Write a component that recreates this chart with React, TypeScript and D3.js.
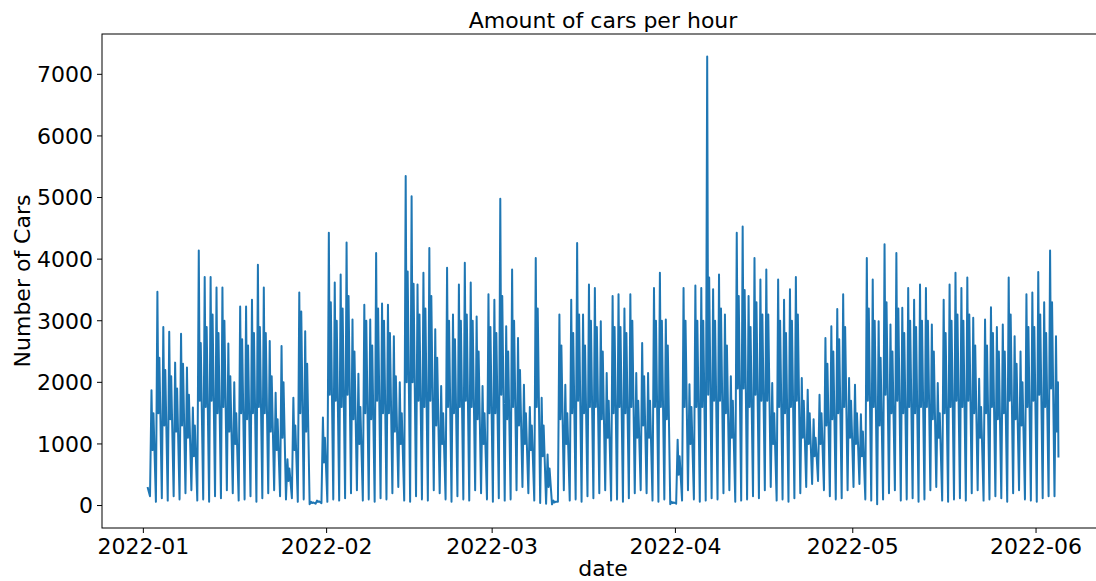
import React from "react";
import * as d3 from "d3";

// Daily readings (day 0 = 2022-01-01)
const dailyPeak = [
  370, 1870, 3470, 2900, 2820, 2320, 2790,
  2240, 1590, 4140, 3710, 3710, 3540, 3540,
  2630, 2000, 3230, 3230, 3340, 3910, 3540,
  2670, 1830, 2590, 750, 1750, 3460, 2830,
  60, 80, 1430, 4430, 3620, 3750, 4270,
  3020, 2140, 3260, 3020, 4100, 3280, 3260,
  2750, 2000, 5350, 5020, 3590, 3780, 4180,
  2860, 1940, 3860, 3100, 3590, 3940, 3620,
  3070, 1940, 3430, 3340, 4980, 2910, 3830,
  2720, 1960, 1600, 4020, 1750, 830, 80,
  3100, 1960, 3340, 4260, 3100, 3590, 3530,
  2990, 2150, 3400, 3430, 3200, 3430, 2150,
  2640, 2150, 3530, 3780, 3020, 60, 1070,
  3530, 1970, 3570, 3530, 7290, 3510, 3750,
  3100, 2100, 4430, 4530, 3400, 4020, 3670,
  3830, 1990, 3670, 3340, 3510, 3710, 2070,
  1880, 1400, 1800, 2720, 2910, 3190, 3430,
  2070, 1960, 1480, 4020, 3670, 2990, 4240,
  2940, 4100, 3210, 3530, 3340, 3590, 3530,
  2940, 1990, 3340, 3590, 3780, 3530, 3700,
  3050, 2060, 3020, 3220, 2900, 2940, 3700,
  2750, 2500, 3430, 3460, 3790, 3300, 4140,
  2750,
];

const dailySecond = [
  300, 1500, 2400, 2200, 2100, 1900, 2300,
  1800, 1300, 2640, 2900, 3100, 2800, 3000,
  2100, 1500, 2700, 2600, 2800, 2900, 2800,
  2100, 1400, 2000, 600, 1300, 3150, 2300,
  50, 70, 1100, 3300, 3000, 3200, 3400,
  2500, 1600, 3000, 2600, 3200, 3000, 2800,
  2100, 1500, 3800, 3600, 3100, 3200, 3400,
  2400, 1500, 3000, 2700, 3000, 3100, 3000,
  2500, 1500, 2900, 2800, 3400, 2500, 3000,
  2200, 1500, 1300, 3200, 1300, 600, 60,
  2600, 1500, 2800, 3100, 2600, 3000, 2900,
  2500, 1700, 2900, 2900, 2800, 3000, 1700,
  2100, 1700, 3000, 3000, 2600, 50, 800,
  3000, 1600, 3000, 3000, 3700, 3000, 3200,
  2600, 1700, 3400, 3500, 2900, 3300, 3100,
  3100, 1500, 3000, 2800, 3000, 3100, 1700,
  1500, 1100, 1500, 2300, 2500, 2700, 2900,
  1700, 1500, 1200, 3200, 3000, 2400, 3300,
  2500, 3200, 2800, 3000, 2900, 3000, 3000,
  2500, 1500, 2800, 3000, 3100, 3000, 3100,
  2600, 1600, 2600, 2800, 2500, 2500, 3100,
  2300, 2000, 2900, 2900, 3100, 2800, 3300,
  2000,
];

const dailyDip = [
  200, 900, 1500, 1300, 1400, 1200, 1300,
  1100, 800, 1700, 1600, 1700, 1500, 1600,
  1200, 1000, 1500, 1400, 1500, 1600, 1500,
  1200, 900, 1100, 400, 900, 1500, 1200,
  40, 60, 700, 1800, 1700, 1600, 1800,
  1400, 1000, 1500, 1400, 1700, 1500, 1500,
  1200, 1000, 2000, 2000, 1700, 1600, 1700,
  1300, 1000, 1600, 1500, 1600, 1700, 1600,
  1400, 1000, 1500, 1500, 1800, 1400, 1600,
  1300, 1000, 900, 1600, 800, 300, 50,
  1400, 1000, 1500, 1700, 1500, 1600, 1600,
  1400, 1100, 1500, 1600, 1500, 1600, 1100,
  1300, 1100, 1600, 1600, 1400, 40, 500,
  1600, 1000, 1600, 1600, 1800, 1700, 1700,
  1500, 1100, 1900, 1900, 1600, 1800, 1700,
  1700, 1000, 1600, 1500, 1600, 1700, 1100,
  1000, 800, 1000, 1300, 1400, 1500, 1600,
  1100, 1000, 800, 1700, 1600, 1300, 1800,
  1500, 1700, 1500, 1600, 1500, 1600, 1600,
  1400, 1100, 1500, 1600, 1700, 1600, 1700,
  1500, 1100, 1500, 1600, 1400, 1500, 1700,
  1400, 1300, 1600, 1700, 1800, 1600, 1900,
  1200,
];

const dailyLow = [
  250, 150, 60, 120, 80, 150, 100,
  200, 250, 80, 100, 60, 150, 120,
  250, 200, 80, 100, 150, 60, 120,
  200, 250, 150, 100, 120, 60, 100,
  20, 30, 40, 60, 100, 80, 120,
  200, 250, 80, 100, 60, 120, 100,
  200, 300, 80, 60, 150, 100, 80,
  250, 200, 100, 60, 150, 100, 80,
  250, 200, 100, 60, 120, 80, 100,
  250, 300, 200, 80, 40, 30, 20,
  60, 250, 80, 100, 60, 150, 120,
  200, 250, 80, 100, 60, 120, 200,
  250, 200, 80, 60, 100, 20, 30,
  80, 250, 100, 60, 80, 120, 100,
  200, 250, 60, 80, 100, 150, 120,
  250, 300, 80, 100, 60, 120, 200,
  300, 350, 400, 250, 150, 100, 120,
  250, 300, 350, 100, 80, 20, 100,
  200, 250, 80, 100, 120, 60, 100,
  250, 300, 80, 60, 100, 120, 80,
  200, 250, 80, 100, 150, 120, 60,
  200, 250, 100, 80, 60, 120, 150,
  150,
];

const lastValue = 780;
const firstDate = new Date(2022, 0, 1);
const dataStart = new Date(2022, 0, 1, 16);
const dataEnd = new Date(2022, 5, 4, 19);

const xTickDates = [0, 1, 2, 3, 4, 5].map((m) => new Date(2022, m, 1));
const xTickLabels = ["2022-01", "2022-02", "2022-03", "2022-04", "2022-05", "2022-06"];
const yTicks = [0, 1000, 2000, 3000, 4000, 5000, 6000, 7000];

const HOUR = 3600 * 1000;
const DAY = 24 * HOUR;

type Pt = { t: Date; v: number };

function buildSeries(): Pt[] {
  const pts: Pt[] = [];
  dailyPeak.forEach((_, d) => {
    const base = firstDate.getTime() + d * DAY;
    pts.push({ t: new Date(base + 3 * HOUR), v: dailyLow[d] });
    pts.push({ t: new Date(base + 9 * HOUR), v: dailyPeak[d] });
    pts.push({ t: new Date(base + 13 * HOUR), v: dailyDip[d] });
    pts.push({ t: new Date(base + 17 * HOUR), v: dailySecond[d] });
  });
  const out = pts.filter((p) => p.t >= dataStart && p.t < dataEnd);
  out.push({ t: dataEnd, v: lastValue });
  return out;
}

export default function App() {
  const W = 1096;
  const H = 581;
  const left = 102;
  const right = 1104;
  const top = 34;
  const bottom = 528;

  const series = buildSeries();
  const tExtent = d3.extent(series, (p) => p.t.getTime()) as [number, number];
  const pad = (tExtent[1] - tExtent[0]) * 0.05;
  const x = d3
    .scaleTime()
    .domain([new Date(tExtent[0] - pad), new Date(tExtent[1] + pad)])
    .range([left, right]);
  const vMax = d3.max(series, (p) => p.v) as number;
  const vMin = 0;
  const vPad = (vMax - vMin) * 0.05;
  const y = d3.scaleLinear().domain([vMin - vPad, vMax + vPad]).range([bottom, top]);

  const line = d3
    .line<Pt>()
    .x((p) => x(p.t))
    .y((p) => y(p.v));

  const font = "'DejaVu Sans', sans-serif";
  const fs = 22;

  return (
    <svg
      width={W}
      height={H}
      style={{ position: "absolute", left: 0, top: 0, background: "#fff" }}
      fontFamily={font}
    >
      <rect x={0} y={0} width={W} height={H} fill="#fff" />
      <text x={(left + right) / 2} y={28} textAnchor="middle" fontSize={fs} fill="#000">
        Amount of cars per hour
      </text>
      <path d={line(series) || ""} fill="none" stroke="#1f77b4" strokeWidth={2} strokeLinejoin="round" />
      <rect x={left} y={top} width={right - left} height={bottom - top} fill="none" stroke="#000" strokeWidth={1} />
      {yTicks.map((v) => (
        <g key={v}>
          <line x1={left - 5} x2={left} y1={y(v)} y2={y(v)} stroke="#000" strokeWidth={1} />
          <text x={left - 9} y={y(v)} dy="0.36em" textAnchor="end" fontSize={fs} fill="#000">
            {v}
          </text>
        </g>
      ))}
      {xTickDates.map((dt, i) => (
        <g key={i}>
          <line x1={x(dt)} x2={x(dt)} y1={bottom} y2={bottom + 5} stroke="#000" strokeWidth={1} />
          <text x={x(dt)} y={bottom + 26} textAnchor="middle" fontSize={fs} fill="#000">
            {xTickLabels[i]}
          </text>
        </g>
      ))}
      <text x={(left + right) / 2} y={576} textAnchor="middle" fontSize={fs} fill="#000">
        date
      </text>
      <text
        transform={`translate(30, ${(top + bottom) / 2}) rotate(-90)`}
        textAnchor="middle"
        fontSize={fs}
        fill="#000"
      >
        Number of Cars
      </text>
    </svg>
  );
}
